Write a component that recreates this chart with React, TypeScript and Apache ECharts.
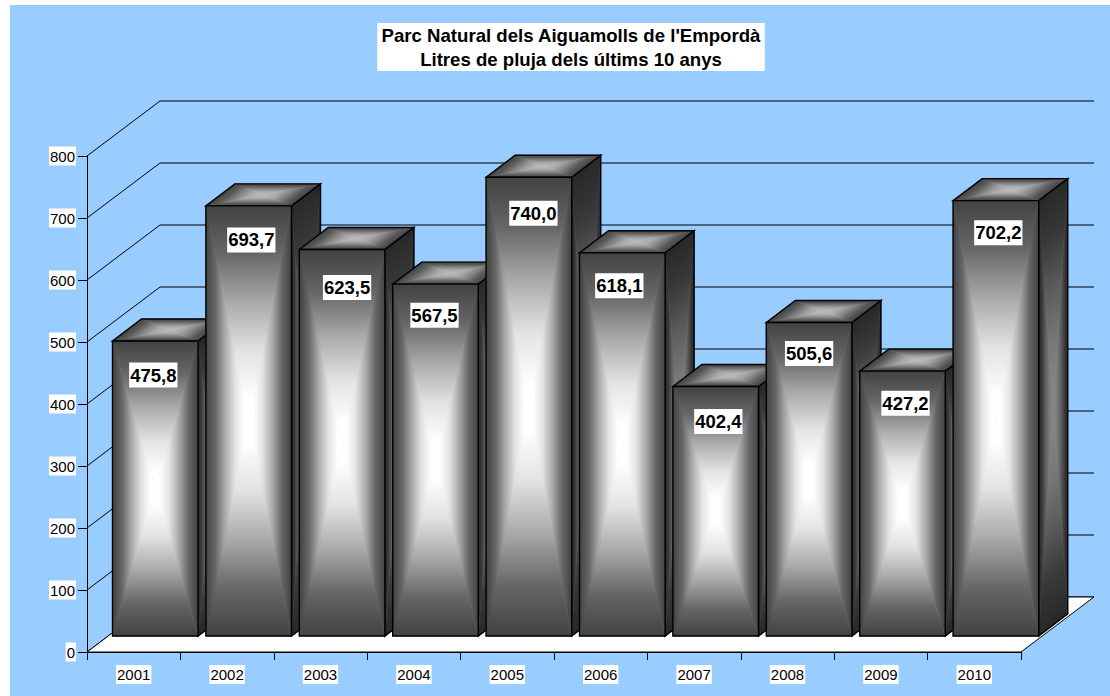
import React, { useEffect, useRef } from "react";
import * as echarts from "echarts";

const years = ["2001", "2002", "2003", "2004", "2005", "2006", "2007", "2008", "2009", "2010"];
const rainfall = [475.8, 693.7, 623.5, 567.5, 740.0, 618.1, 402.4, 505.6, 427.2, 702.2];
const wallTicks = [0, 100, 200, 300, 400, 500, 600, 700, 800];
const labelNudgeX = [-2, 2.6, 5, -1, 4.5, -3, 2.6, 0, 3, 2.4];
const labelNudgeY = [34, 34, 38, 31, 36, 33, 35, 31, 32, 32];
const titleText = "Parc Natural dels Aiguamolls de l'Empordà\nLitres de pluja dels últims 10 anys";

const FONT = '"Liberation Sans", Arial, sans-serif';
const BLUE = "#99CCFF";
const WALL_DX = 73;
const WALL_DY = -55;
const PLANE_DX = 21.6;
const PLANE_DY = -16;
const BAR_HALF = 42.8;
const DEPTH_DX = 29;
const DEPTH_DY = -22;
const CURVE: [number, number][] = [
  [0, 0],
  [0.22, 0.19],
  [0.45, 0.55],
  [0.68, 0.85],
  [0.9, 1],
  [1, 1],
];

type P = [number, number];

function mix(edge: number, mid: number, w: number) {
  const v = Math.round(edge + (mid - edge) * w);
  return `rgb(${v},${v},${v})`;
}

function tri(a: P, b: P, c: P, edge: number, mid: number) {
  const ex = b[0] - a[0];
  const ey = b[1] - a[1];
  const t = ((c[0] - a[0]) * ex + (c[1] - a[1]) * ey) / (ex * ex + ey * ey);
  const fx = a[0] + t * ex;
  const fy = a[1] + t * ey;
  const grad = {
    type: "linear",
    x: fx,
    y: fy,
    x2: c[0],
    y2: c[1],
    global: true,
    colorStops: CURVE.map(([offset, w]) => ({ offset, color: mix(edge, mid, w) })),
  };
  return {
    type: "polygon",
    shape: { points: [a, b, c] },
    style: { fill: grad, stroke: grad, lineWidth: 0.6 },
  };
}

function quadFace(q: P[], edge: number, mid: number) {
  const c: P = [(q[0][0] + q[2][0]) / 2, (q[0][1] + q[2][1]) / 2];
  return [
    tri(q[0], q[1], c, edge, mid),
    tri(q[2], q[3], c, edge, mid),
    tri(q[1], q[2], c, edge, mid),
    tri(q[3], q[0], c, edge, mid),
    {
      type: "polygon",
      shape: { points: q },
      style: { fill: "none", stroke: "#000", lineWidth: 1.4 },
    },
  ];
}

function renderWall(params: any, api: any) {
  const cs = params.coordSys;
  const y = api.coord([0, api.value(1)])[1];
  const x0 = cs.x;
  const x1 = cs.x + cs.width;
  return {
    type: "polyline",
    shape: {
      points: [
        [x0, y],
        [x0 + WALL_DX, y + WALL_DY],
        [x1 + WALL_DX, y + WALL_DY],
      ],
    },
    style: { fill: "none", stroke: "#000", lineWidth: 1 },
  };
}

function renderFloor(params: any, api: any) {
  const cs = params.coordSys;
  const y = api.coord([0, 0])[1];
  const x0 = cs.x;
  const x1 = cs.x + cs.width;
  return {
    type: "polygon",
    shape: {
      points: [
        [x0, y],
        [x1, y],
        [x1 + WALL_DX, y + WALL_DY],
        [x0 + WALL_DX, y + WALL_DY],
      ],
    },
    style: { fill: "#fff", stroke: "#000", lineWidth: 1 },
  };
}

function renderBar(_params: any, api: any) {
  const top = api.coord([api.value(0), api.value(1)]);
  const base = api.coord([api.value(0), 0]);
  const cx = top[0] + PLANE_DX;
  const l = cx - BAR_HALF;
  const r = cx + BAR_HALF;
  const t = top[1] + PLANE_DY;
  const b = base[1] + PLANE_DY;
  const front: P[] = [[l, t], [r, t], [r, b], [l, b]];
  const side: P[] = [
    [r, t],
    [r + DEPTH_DX, t + DEPTH_DY],
    [r + DEPTH_DX, b + DEPTH_DY],
    [r, b],
  ];
  const cap: P[] = [
    [l + DEPTH_DX, t + DEPTH_DY],
    [r + DEPTH_DX, t + DEPTH_DY],
    [r, t],
    [l, t],
  ];
  return {
    type: "group",
    children: [
      ...quadFace(side, 0x28, 0x84),
      ...quadFace(cap, 0x44, 0xb8),
      ...quadFace(front, 0x42, 0xff),
    ],
  };
}

function renderLabel(params: any, api: any) {
  const i = params.dataIndex;
  const top = api.coord([api.value(0), api.value(1)]);
  return {
    type: "text",
    style: {
      text: api.value(1).toFixed(1).replace(".", ","),
      x: top[0] + PLANE_DX + labelNudgeX[i],
      y: top[1] + PLANE_DY + labelNudgeY[i],
      align: "center",
      verticalAlign: "middle",
      font: `bold 18.5px ${FONT}`,
      fill: "#000",
      backgroundColor: "#fff",
      padding: [3, 1, 3, 1],
    },
  };
}

export default function App() {
  const ref = useRef<HTMLDivElement>(null);
  useEffect(() => {
    document.body.style.margin = "0";
    const chart = echarts.init(ref.current!, undefined, { renderer: "svg" });
    const barData = years.map((_, i) => [i, rainfall[i]]);
    chart.setOption({
      animation: false,
      backgroundColor: "#fff",
      graphic: [
        {
          type: "rect",
          z: -10,
          shape: { x: 10, y: 5, width: 1100, height: 691 },
          style: { fill: BLUE },
        },
      ],
      title: {
        text: titleText,
        left: 567,
        top: 23,
        textAlign: "center",
        padding: [0, 4, 0, 4],
        backgroundColor: "#fff",
        textStyle: {
          fontFamily: FONT,
          fontWeight: "bold",
          fontSize: 18.6,
          lineHeight: 24,
          color: "#000",
        },
      },
      grid: { left: 87, top: 156, width: 934, height: 496 },
      xAxis: {
        type: "category",
        data: years,
        axisLine: { show: true, lineStyle: { color: "#000", width: 1 } },
        axisTick: { show: true, alignWithLabel: false, length: 8, lineStyle: { color: "#000", width: 1 } },
        axisLabel: {
          margin: 13,
          fontFamily: FONT,
          fontSize: 15,
          color: "#000",
          backgroundColor: "#fff",
          padding: [2, 1, 2, 1],
        },
      },
      yAxis: {
        type: "value",
        min: 0,
        max: 800,
        interval: 100,
        splitLine: { show: false },
        axisLine: { show: true, lineStyle: { color: "#000", width: 1 } },
        axisTick: { show: true, length: 9, lineStyle: { color: "#000" } },
        axisLabel: {
          margin: 11,
          fontFamily: FONT,
          fontSize: 15,
          color: "#000",
          backgroundColor: "#fff",
          padding: [2, 1, 2, 1],
        },
      },
      series: [
        {
          type: "custom",
          z: 2,
          silent: true,
          clip: false,
          renderItem: renderWall,
          data: wallTicks.map((t) => [0, t]),
        },
        {
          type: "custom",
          z: 3,
          silent: true,
          clip: false,
          renderItem: renderFloor,
          data: [[0, 0]],
        },
        {
          type: "custom",
          z: 4,
          silent: true,
          clip: false,
          renderItem: renderBar,
          data: barData,
        },
        {
          type: "custom",
          z: 5,
          silent: true,
          clip: false,
          renderItem: renderLabel,
          data: barData,
        },
      ],
    });
    return () => chart.dispose();
  }, []);
  return <div ref={ref} style={{ position: "absolute", left: 0, top: 0, width: 1110, height: 696 }} />;
}
